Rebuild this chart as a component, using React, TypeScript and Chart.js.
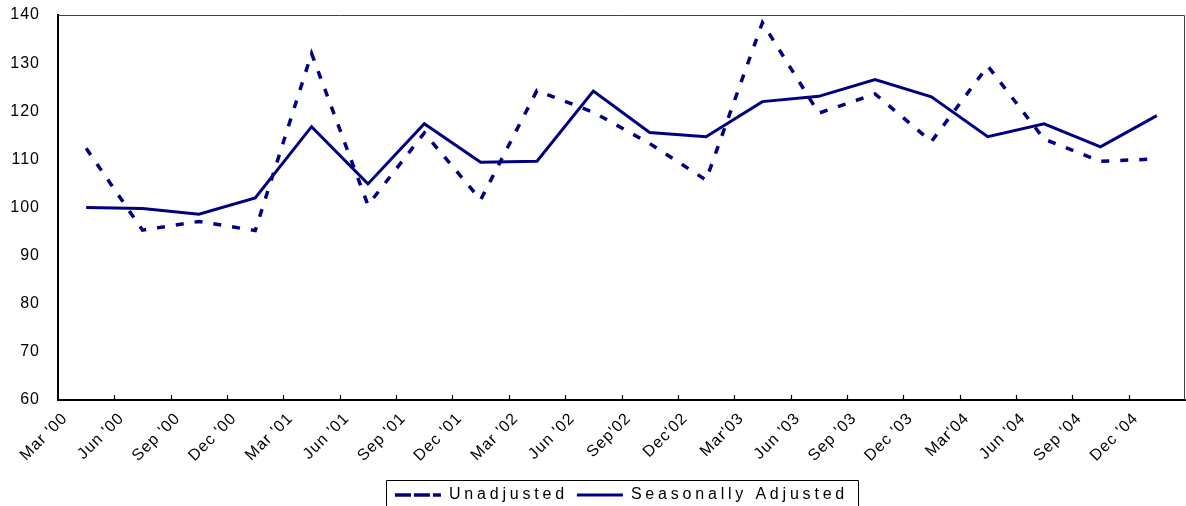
import React, { useEffect, useRef } from "react";
import { Chart, registerables } from "chart.js";

Chart.register(...registerables);

const categories = [
  "Mar '00", "Jun '00", "Sep '00", "Dec '00",
  "Mar '01", "Jun '01", "Sep '01", "Dec '01",
  "Mar '02", "Jun '02", "Sep'02", "Dec'02",
  "Mar'03", "Jun '03", "Sep '03", "Dec '03",
  "Mar'04", "Jun '04", "Sep '04", "Dec '04",
];

const unadjusted = [
  112.3, 95.3, 97.1, 95.2,
  132.0, 100.5, 115.5, 101.6,
  124.3, 119.8, 113.3, 105.7,
  138.4, 119.6, 123.6, 113.7,
  129.4, 114.2, 109.6, 110.1,
];

const seasonallyAdjusted = [
  100.0, 99.8, 98.6, 102.0,
  116.8, 104.9, 117.4, 109.4,
  109.6, 124.2, 115.6, 114.7,
  122.0, 123.1, 126.6, 123.0,
  114.7, 117.4, 112.6, 119.1,
];

const yMin = 60;
const yMax = 140;
const yStep = 10;

const NAVY = "#000080";
const FONT = "'Liberation Sans', Arial, sans-serif";
const TICK_SPACING = "1px";
const LEGEND_SPACING = "3.8px";

const prepare = (chart: any) => {
  chart.ctx.letterSpacing = TICK_SPACING;
  const lg = chart.legend;
  if (lg && !lg.__wrapped) {
    lg.__wrapped = true;
    const fit = lg.fit.bind(lg);
    const draw = lg.draw.bind(lg);
    lg.fit = () => {
      chart.ctx.letterSpacing = LEGEND_SPACING;
      fit();
      chart.ctx.letterSpacing = TICK_SPACING;
    };
    lg.draw = () => {
      chart.ctx.letterSpacing = LEGEND_SPACING;
      draw();
      chart.ctx.letterSpacing = TICK_SPACING;
    };
  }
};

const framePlugin = {
  id: "frame",
  beforeUpdate: prepare,
  beforeLayout: prepare,
  beforeDraw: prepare,
  afterDraw(chart: any) {
    const ctx = chart.ctx;
    const { left, right, top, bottom } = chart.chartArea;
    const xs = chart.scales.x;
    ctx.save();
    // top & right frame
    ctx.strokeStyle = "#404040";
    ctx.lineWidth = 1;
    ctx.beginPath();
    ctx.moveTo(left, top + 0.5);
    ctx.lineTo(right - 0.5, top + 0.5);
    ctx.lineTo(right - 0.5, bottom);
    ctx.stroke();
    // inner tick marks at category boundaries
    ctx.strokeStyle = "#000";
    ctx.lineWidth = 1.2;
    ctx.beginPath();
    for (let i = 1; i < categories.length; i++) {
      const x = Math.round((xs.getPixelForValue(i - 1) + xs.getPixelForValue(i)) / 2) + 0.5;
      ctx.moveTo(x, bottom);
      ctx.lineTo(x, bottom - 5);
    }
    ctx.stroke();
    // legend frame
    const boxes = chart.legend?.legendHitBoxes || [];
    if (boxes.length) {
      const first = boxes[0];
      const last = boxes[boxes.length - 1];
      const x1 = Math.round(first.left - 9) + 0.5;
      const x2 = Math.round(last.left + last.width + 10) + 0.5;
      const y1 = Math.round(first.top - 7) + 0.5;
      ctx.strokeStyle = "#000";
      ctx.lineWidth = 1;
      ctx.beginPath();
      ctx.moveTo(x1, chart.height + 5);
      ctx.lineTo(x1, y1);
      ctx.lineTo(x2, y1);
      ctx.lineTo(x2, chart.height + 5);
      ctx.stroke();
    }
    ctx.restore();
  },
};

export default function App() {
  const ref = useRef<HTMLCanvasElement | null>(null);

  useEffect(() => {
    if (!ref.current) return;
    const chart = new Chart(ref.current, {
      type: "line",
      data: {
        labels: categories,
        datasets: [
          {
            label: "Unadjusted",
            data: unadjusted,
            borderColor: NAVY,
            backgroundColor: "rgba(0,0,0,0)",
            borderWidth: 3.5,
            borderDash: [8, 11],
            pointRadius: 0,
            tension: 0,
          },
          {
            label: "Seasonally Adjusted",
            data: seasonallyAdjusted,
            borderColor: NAVY,
            backgroundColor: "rgba(0,0,0,0)",
            borderWidth: 3,
            pointRadius: 0,
            tension: 0,
          },
        ],
      },
      options: {
        responsive: false,
        animation: false,
        devicePixelRatio: 1,
        layout: { padding: { top: 15, right: 1, left: 0, bottom: -7 } },
        plugins: {
          tooltip: { enabled: false },
          legend: {
            position: "bottom",
            fullSize: false,
            labels: {
              color: "#000",
              font: { family: FONT, size: 16 },
              boxWidth: 46,
              boxHeight: 0,
              padding: 9,
            },
          },
        },
        scales: {
          x: {
            type: "category",
            offset: true,
            grid: { display: true, drawOnChartArea: false, drawTicks: false, offset: true },
            border: { display: true, color: "#000", width: 2 },
            ticks: {
              autoSkip: false,
              maxRotation: 45,
              minRotation: 45,
              color: "#000",
              font: { family: FONT, size: 16 },
              padding: 9,
              labelOffset: -21,
            },
            afterFit: (s: any) => {
              s.height = 78;
              s.paddingLeft = 0;
              s.paddingRight = 0;
            },
          },
          y: {
            min: yMin,
            max: yMax,
            grid: { display: false, drawTicks: false },
            border: { display: true, color: "#000", width: 2 },
            ticks: {
              stepSize: yStep,
              color: "#000",
              font: { family: FONT, size: 16 },
              padding: 18,
            },
            afterFit: (s: any) => {
              s.width = 58;
              s.paddingTop = 0;
              s.paddingBottom = 0;
            },
          },
        },
      },
      plugins: [framePlugin],
    });
    return () => chart.destroy();
  }, []);

  return (
    <div style={{ position: "absolute", left: 0, top: 0, width: 1186, height: 506, background: "#fff" }}>
      <canvas ref={ref} width={1186} height={506} style={{ display: "block" }} />
    </div>
  );
}
